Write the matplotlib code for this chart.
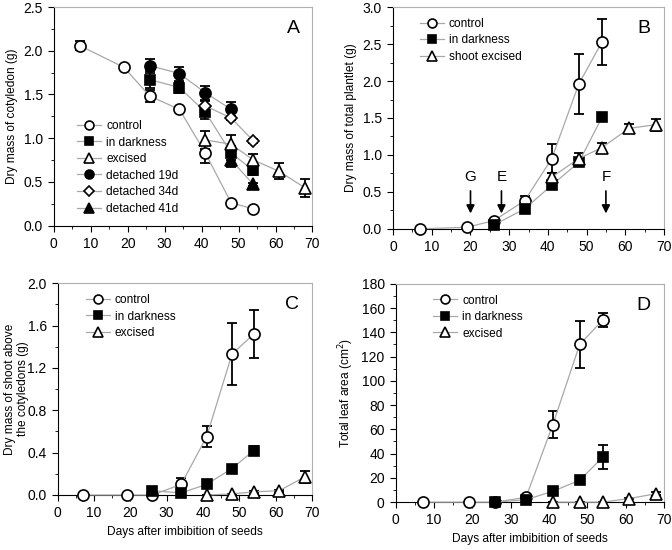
import matplotlib.pyplot as plt
from matplotlib.ticker import MultipleLocator

plt.rcParams['font.family'] = ['Liberation Sans', 'DejaVu Sans']

# ---- panel A: cotyledon dry mass
a_ctrl_x = [7, 19, 26, 34, 41, 48, 54]
a_ctrl_y = [2.06, 1.81, 1.48, 1.33, 0.83, 0.26, 0.19]
a_ctrl_e = [0.05, 0.02, 0.07, 0.02, 0.12, 0.02, 0.02]
a_dark_x = [26, 34, 41, 48, 54]
a_dark_y = [1.67, 1.58, 1.30, 0.83, 0.63]
a_dark_e = [0.10, 0.06, 0.08, 0.08, 0.05]
a_exc_x = [41, 48, 54, 61, 68]
a_exc_y = [0.98, 0.93, 0.75, 0.62, 0.43]
a_exc_e = [0.10, 0.11, 0.07, 0.09, 0.10]
a_d19_x = [26, 34, 41, 48]
a_d19_y = [1.83, 1.74, 1.52, 1.33]
a_d19_e = [0.08, 0.08, 0.08, 0.08]
a_d34_x = [41, 48, 54]
a_d34_y = [1.37, 1.23, 0.97]
a_d34_e = [0.05, 0.02, 0.02]
a_d41_x = [48, 54]
a_d41_y = [0.75, 0.47]
a_d41_e = [0.08, 0.02]

# ---- panel B: total plantlet dry mass
b_ctrl_x = [7, 19, 26, 34, 41, 48, 54]
b_ctrl_y = [0.0, 0.02, 0.11, 0.38, 0.95, 1.96, 2.53]
b_ctrl_e = [0.0, 0.01, 0.02, 0.07, 0.20, 0.40, 0.31]
b_dark_x = [26, 34, 41, 48, 54]
b_dark_y = [0.05, 0.27, 0.59, 0.90, 1.51]
b_dark_e = [0.01, 0.03, 0.04, 0.05, 0.03]
b_exc_x = [41, 48, 54, 61, 68]
b_exc_y = [0.70, 0.95, 1.10, 1.36, 1.41]
b_exc_e = [0.06, 0.07, 0.06, 0.06, 0.08]

# ---- panel C: shoot above cotyledons
c_ctrl_x = [7, 19, 26, 34, 41, 48, 54]
c_ctrl_y = [0.0, 0.0, 0.0, 0.10, 0.55, 1.33, 1.52]
c_ctrl_e = [0.0, 0.0, 0.0, 0.06, 0.10, 0.29, 0.23]
c_dark_x = [26, 34, 41, 48, 54]
c_dark_y = [0.04, 0.02, 0.10, 0.25, 0.42]
c_dark_e = [0.01, 0.01, 0.01, 0.01, 0.04]
c_exc_x = [41, 48, 54, 61, 68]
c_exc_y = [0.0, 0.01, 0.03, 0.04, 0.17]
c_exc_e = [0.0, 0.0, 0.01, 0.01, 0.06]

# ---- panel D: total leaf area
d_ctrl_x = [7, 19, 26, 34, 41, 48, 54]
d_ctrl_y = [0, 0, 0, 4, 64, 130, 150]
d_ctrl_e = [0, 0, 0, 1, 11, 19, 6]
d_dark_x = [26, 34, 41, 48, 54]
d_dark_y = [0, 2, 9, 18, 37]
d_dark_e = [0, 0.5, 1, 1, 10]
d_exc_x = [41, 48, 54, 61, 68]
d_exc_y = [0, 0, 0, 3, 7]
d_exc_e = [0, 0, 0, 0.5, 1]

LINE = '#a8a8a8'
LAB = 8.6


def series(ax, x, y, e, marker, face, label, ms=8):
    ax.errorbar(x, y, yerr=e, fmt='none', ecolor='black', elinewidth=1.3,
                capsize=3.5, capthick=1.3, zorder=2)
    ax.plot(x, y, color=LINE, lw=0.9, marker=marker, ms=ms, mfc=face,
            mec='black', mew=1.2, label=label, zorder=3, clip_on=False)


def style(ax, xmax, ymax, ymaj, ymin, letter):
    ax.set_xlim(0, xmax)
    ax.set_ylim(0, ymax)
    ax.xaxis.set_major_locator(MultipleLocator(10))
    ax.xaxis.set_minor_locator(MultipleLocator(5))
    ax.yaxis.set_major_locator(MultipleLocator(ymaj))
    ax.yaxis.set_minor_locator(MultipleLocator(ymin))
    ax.tick_params(which='both', direction='out', labelsize=10)
    ax.tick_params(which='major', length=4, pad=4)
    ax.tick_params(which='minor', length=2.5)
    for s in ['top', 'right']:
        ax.spines[s].set_color('#b0b0b0')
    ax.text(0.95, 0.94, letter, transform=ax.transAxes, fontsize=14,
            ha='right', va='top')


def legend(ax, **kw):
    ax.legend(frameon=False, fontsize=LAB, handlelength=2.0,
              handletextpad=0.4, labelspacing=0.38, markerscale=0.8, **kw)


fig = plt.figure(figsize=(6.72, 5.5), dpi=100)
axA = fig.add_axes([0.080, 0.590, 0.385, 0.397])
axB = fig.add_axes([0.585, 0.584, 0.403, 0.403])
axC = fig.add_axes([0.086, 0.100, 0.378, 0.385])
axD = fig.add_axes([0.589, 0.087, 0.399, 0.397])

# A
series(axA, a_ctrl_x, a_ctrl_y, a_ctrl_e, 'o', 'white', 'control')
series(axA, a_dark_x, a_dark_y, a_dark_e, 's', 'black', 'in darkness', 7.5)
series(axA, a_exc_x, a_exc_y, a_exc_e, '^', 'white', 'excised', 8.5)
series(axA, a_d19_x, a_d19_y, a_d19_e, 'o', 'black', 'detached 19d')
series(axA, a_d34_x, a_d34_y, a_d34_e, 'D', 'white', 'detached 34d', 6.5)
series(axA, a_d41_x, a_d41_y, a_d41_e, '^', 'black', 'detached 41d', 8.5)
style(axA, 70, 2.5, 0.5, 0.25, 'A')
axA.set_ylabel('Dry mass of cotyledon (g)', fontsize=LAB)
legend(axA, loc='lower left', bbox_to_anchor=(0.05, 0.0))

# B
series(axB, b_ctrl_x, b_ctrl_y, b_ctrl_e, 'o', 'white', 'control')
series(axB, b_dark_x, b_dark_y, b_dark_e, 's', 'black', 'in darkness', 7.5)
series(axB, b_exc_x, b_exc_y, b_exc_e, '^', 'white', 'shoot excised', 8.5)
style(axB, 70, 3.0, 0.5, 0.25, 'B')
axB.set_ylabel('Dry mass of total plantlet (g)', fontsize=LAB)
legend(axB, loc='upper left', bbox_to_anchor=(0.06, 1.0))
for lab, xa in [('G', 20), ('E', 28), ('F', 55)]:
    axB.annotate('', xy=(xa, 0.17), xytext=(xa, 0.55),
                 arrowprops=dict(arrowstyle='-|>', color='black', lw=1.2,
                                 mutation_scale=12))
    axB.text(xa, 0.6, lab, ha='center', va='bottom', fontsize=11)

# C
series(axC, c_ctrl_x, c_ctrl_y, c_ctrl_e, 'o', 'white', 'control')
series(axC, c_dark_x, c_dark_y, c_dark_e, 's', 'black', 'in darkness', 7.5)
series(axC, c_exc_x, c_exc_y, c_exc_e, '^', 'white', 'excised', 8.5)
style(axC, 70, 2.0, 0.4, 0.2, 'C')
axC.set_ylabel('Dry mass of shoot above\nthe cotyledons (g)', fontsize=LAB,
               linespacing=1.1)
axC.yaxis.set_label_coords(-0.115, 0.5)
axC.set_xlabel('Days after imbibition of seeds', fontsize=LAB)
legend(axC, loc='upper left', bbox_to_anchor=(0.07, 1.0))

# D
series(axD, d_ctrl_x, d_ctrl_y, d_ctrl_e, 'o', 'white', 'control')
series(axD, d_dark_x, d_dark_y, d_dark_e, 's', 'black', 'in darkness', 7.5)
series(axD, d_exc_x, d_exc_y, d_exc_e, '^', 'white', 'excised', 8.5)
style(axD, 70, 180, 20, 10, 'D')
axD.set_ylabel('Total leaf area (cm$^2$)', fontsize=LAB)
axD.set_xlabel('Days after imbibition of seeds', fontsize=LAB)
legend(axD, loc='upper left', bbox_to_anchor=(0.1, 1.0))

fig.savefig('out.png', dpi=100)
